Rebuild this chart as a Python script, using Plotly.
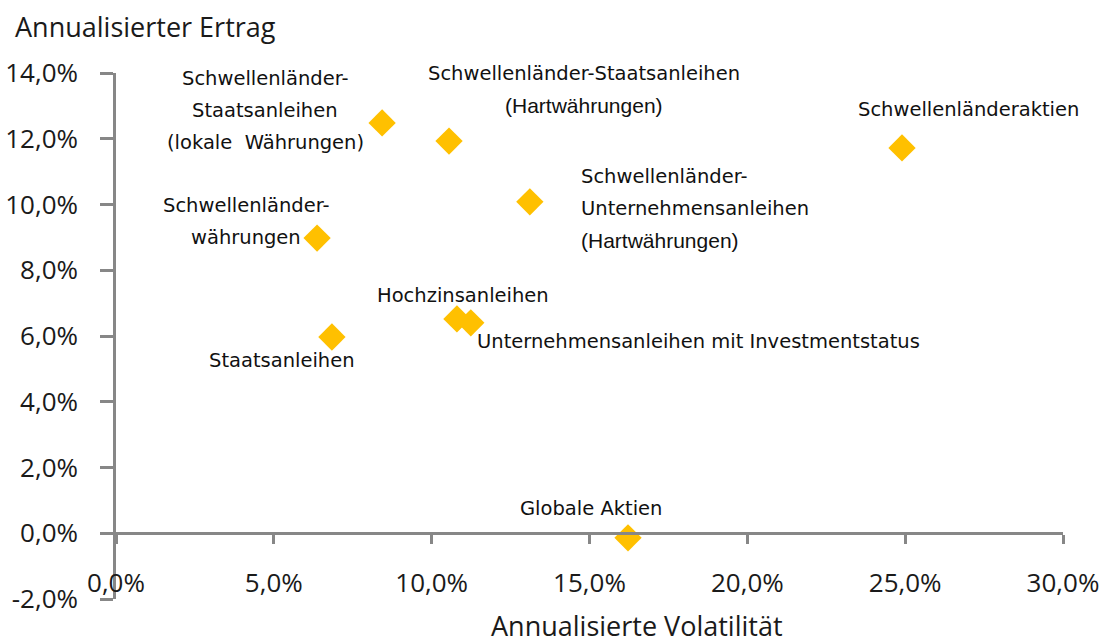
import plotly.graph_objects as go

# ---- data ----
asset_classes = [
    "Schwellenländer-Staatsanleihen (lokale Währungen)",
    "Schwellenländer-Staatsanleihen (Hartwährungen)",
    "Schwellenländeraktien",
    "Schwellenländer-Unternehmensanleihen (Hartwährungen)",
    "Schwellenländerwährungen",
    "Hochzinsanleihen",
    "Unternehmensanleihen mit Investmentstatus",
    "Staatsanleihen",
    "Globale Aktien",
]
volatility = [8.43, 10.55, 24.90, 13.11, 6.37, 10.80, 11.24, 6.84, 16.22]
annual_return = [12.48, 11.93, 11.72, 10.08, 8.98, 6.52, 6.40, 5.97, -0.14]
label_lines = [
    ["Schwellenländer-", "Staatsanleihen", "(lokale\u00a0 Währungen)"],
    ["Schwellenländer-Staatsanleihen", "(Hartwährungen)"],
    ["Schwellenländeraktien"],
    ["Schwellenländer-", "Unternehmensanleihen", "(Hartwährungen)"],
    ["Schwellenländer-", "währungen"],
    ["Hochzinsanleihen"],
    ["Unternehmensanleihen mit Investmentstatus"],
    ["Staatsanleihen"],
    ["Globale Aktien"],
]
x_ticks = [0, 5, 10, 15, 20, 25, 30]
y_ticks = [-2, 0, 2, 4, 6, 8, 10, 12, 14]
x_title = "Annualisierte Volatilität"
y_title = "Annualisierter Ertrag"

# ---- label placement (pixel offsets from the marker: dx, dy(down), anchor) ----
label_style = [
    (-117, -12, "center"),
    (135, -52, "center"),
    (66, -38, "center"),
    (49, 7, "left"),
    (-71, -17, "center"),
    (6, -23, "center"),
    (4, 19, "left"),
    (-50, 24, "center"),
    (-37, -29, "center"),
]
LINE_GAP = 32
AXIS_GREY = "#878787"
TEXT = "#1a1a1a"
TICK_FONT = dict(family="Open Sans", size=26, color=TEXT)
LABEL_FONT = dict(family="DejaVu Sans", size=19.5, color="#111111")
ARIAL_FONT = dict(family="Liberation Sans", size=21, color="#111111")


def pct(v):
    return f"{v:.1f}".replace(".", ",") + "%"


fig = go.Figure()
fig.add_trace(go.Scatter(
    x=volatility, y=annual_return, mode="markers",
    marker=dict(symbol="diamond", size=21, color="#FFC000", line=dict(width=0)),
    text=asset_classes, hoverinfo="text", showlegend=False,
))

annotations = []
for xv, yv, lines, (dx, dy, anchor) in zip(volatility, annual_return, label_lines, label_style):
    n = len(lines)
    for i, line in enumerate(lines):
        off = dy + (i - (n - 1) / 2) * LINE_GAP
        annotations.append(dict(
            x=xv, y=yv, xref="x", yref="y", text=line, showarrow=False,
            xanchor=anchor, yanchor="middle", xshift=dx, yshift=-off,
            font=ARIAL_FONT if line.startswith("(Hart") else LABEL_FONT,
        ))

annotations.append(dict(
    x=-0.1088, y=1.0884, xref="paper", yref="paper", text=y_title,
    showarrow=False, xanchor="left", yanchor="middle",
    font=dict(family="Open Sans", size=27, color=TEXT),
))
annotations.append(dict(
    x=0.55, y=-0.05, xref="paper", yref="paper", text=x_title,
    showarrow=False, xanchor="center", yanchor="middle",
    font=dict(family="Open Sans", size=27, color=TEXT),
))

fig.update_layout(
    width=1101, height=644,
    margin=dict(l=116, r=38, t=73, b=45, autoexpand=False),
    paper_bgcolor="white", plot_bgcolor="white",
    annotations=annotations,
    xaxis=dict(
        range=[0, 30], tickvals=x_ticks, ticktext=[pct(v) for v in x_ticks],
        anchor="free", position=0.125, automargin=False,
        showline=True, linecolor=AXIS_GREY, linewidth=2.5,
        ticks="outside", ticklen=9, tickwidth=2.5, tickcolor=AXIS_GREY,
        showgrid=False, zeroline=False, tickfont=TICK_FONT,
        ticklabelstandoff=17,
    ),
    yaxis=dict(
        range=[-2, 14], tickvals=y_ticks, ticktext=[pct(v) for v in y_ticks],
        automargin=False,
        showline=True, linecolor=AXIS_GREY, linewidth=2.5,
        ticks="outside", ticklen=13, tickwidth=2.5, tickcolor=AXIS_GREY,
        showgrid=False, zeroline=False, tickfont=TICK_FONT,
        ticklabelstandoff=17,
    ),
)

fig.write_html(
    "out.html",
    config={"displayModeBar": False},
    post_script="document.body.style.margin='0';document.body.style.overflow='hidden';",
)
